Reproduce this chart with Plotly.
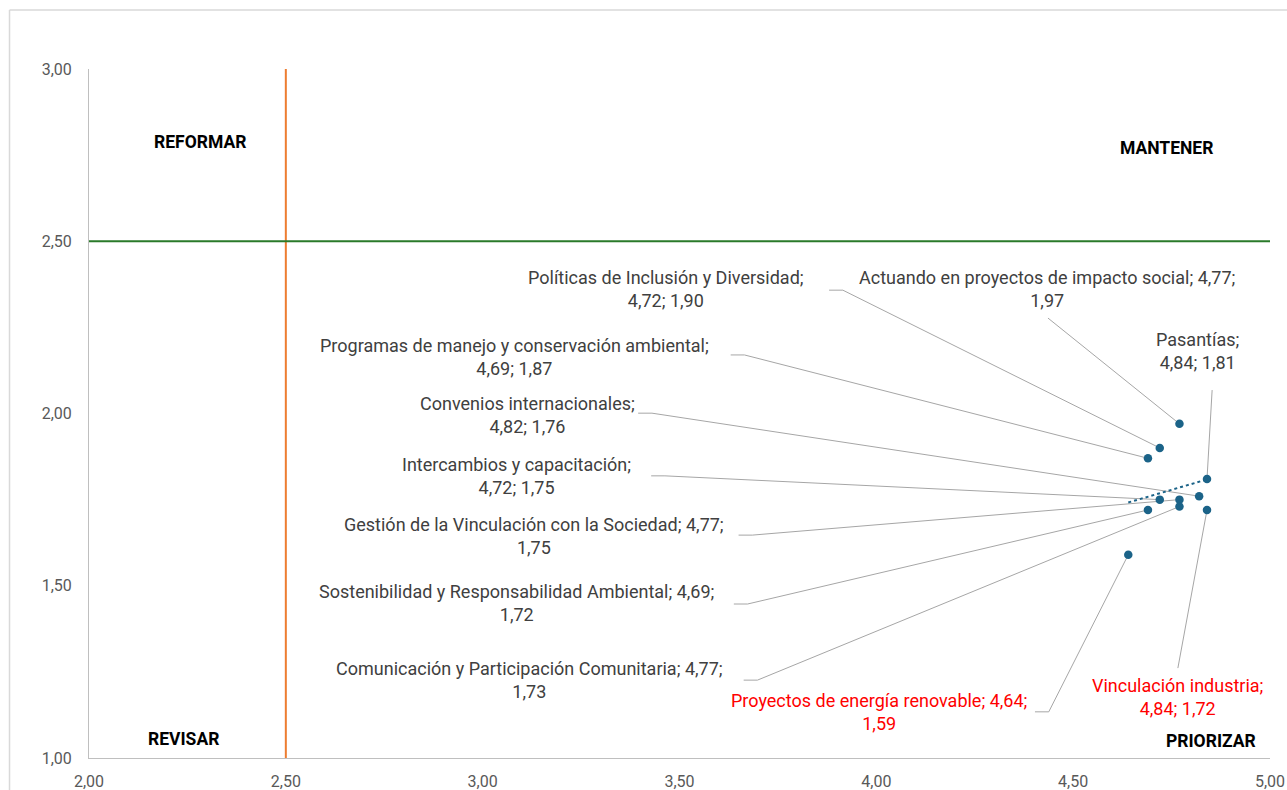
import numpy as np
import plotly.graph_objects as go

# Indicator names, satisfaction (x) and importance (y)
names = [
    "Actuando en proyectos de impacto social",
    "Pasantías",
    "Políticas de Inclusión y Diversidad",
    "Programas de manejo y conservación ambiental",
    "Convenios internacionales",
    "Intercambios y capacitación",
    "Gestión de la Vinculación con la Sociedad",
    "Sostenibilidad y Responsabilidad Ambiental",
    "Comunicación y Participación Comunitaria",
    "Proyectos de energía renovable",
    "Vinculación industria",
]
x_vals = [4.77, 4.84, 4.72, 4.69, 4.82, 4.72, 4.77, 4.69, 4.77, 4.64, 4.84]
y_vals = [1.97, 1.81, 1.90, 1.87, 1.76, 1.75, 1.75, 1.72, 1.73, 1.59, 1.72]
highlight = [False, False, False, False, False, False, False, False, False, True, True]

x_ticks = [2.0, 2.5, 3.0, 3.5, 4.0, 4.5, 5.0]
y_ticks = [1.0, 1.5, 2.0, 2.5, 3.0]
x_cut = 2.5
y_cut = 2.5

quadrants = ["REFORMAR", "MANTENER", "REVISAR", "PRIORIZAR"]

# Label placement (data units): label centre, line break style, leader start
label_layout = [
    # (cx, cy, break_after_first_value, ax, ay, hook)
    (4.433, 2.361, True, 4.436, 2.277, 0.0),
    (4.815, 2.181, False, 4.853, 2.068, 0.0),
    (3.466, 2.361, False, 3.880, 2.358, 0.035),
    (3.080, 2.164, False, 3.630, 2.170, 0.035),
    (3.113, 1.996, False, 3.395, 2.001, 0.035),
    (3.087, 1.819, False, 3.428, 1.819, 0.035),
    (3.130, 1.644, True, 3.650, 1.647, 0.035),
    (3.085, 1.450, True, 3.638, 1.447, 0.035),
    (3.118, 1.226, True, 3.663, 1.226, 0.035),
    (4.007, 1.134, True, 4.403, 1.134, 0.035),
    (4.766, 1.177, False, 4.766, 1.261, 0.0),
]

quad_pos = [(2.283, 2.788), (4.736, 2.771), (2.241, 1.055), (4.850, 1.049)]


def fmt(v):
    return f"{v:.2f}".replace(".", ",")


POINT = "#1B6388"
LABEL = "#404040"
RED = "#FF0000"
LEADER = "#A6A6A6"
FONT = "Roboto"

fig = go.Figure()

# Leader lines from each label to its point
for i, (cx, cy, brk, ax, ay, hook) in enumerate(label_layout):
    fig.add_trace(go.Scatter(
        x=[ax, ax + hook, x_vals[i]], y=[ay, ay, y_vals[i]],
        mode="lines", line=dict(color=LEADER, width=1),
        hoverinfo="skip", showlegend=False,
    ))

# Quadrant dividers
fig.add_trace(go.Scatter(x=[x_cut, x_cut], y=[y_ticks[0], y_ticks[-1]], mode="lines",
                         line=dict(color="#ED7D31", width=2), showlegend=False, hoverinfo="skip"))
fig.add_trace(go.Scatter(x=[x_ticks[0], x_ticks[-1]], y=[y_cut, y_cut], mode="lines",
                         line=dict(color="#2A7A2A", width=2), showlegend=False, hoverinfo="skip"))

# Linear trend line
slope, intercept = np.polyfit(x_vals, y_vals, 1)
tx = np.array([min(x_vals), max(x_vals)])
fig.add_trace(go.Scatter(x=tx, y=slope * tx + intercept, mode="lines",
                         line=dict(color=POINT, width=2, dash="dot"),
                         showlegend=False, hoverinfo="skip"))

# Points
fig.add_trace(go.Scatter(x=x_vals, y=y_vals, mode="markers",
                         marker=dict(color=POINT, size=8.5),
                         text=names, showlegend=False))

# Data labels
for i, (cx, cy, brk, ax, ay, hook) in enumerate(label_layout):
    if brk:
        txt = f"{names[i]}; {fmt(x_vals[i])};<br>{fmt(y_vals[i])}"
    else:
        txt = f"{names[i]};<br>{fmt(x_vals[i])}; {fmt(y_vals[i])}"
    fig.add_annotation(x=cx, y=cy, xref="x", yref="y", text=txt, showarrow=False,
                       align="center", xanchor="center", yanchor="middle",
                       font=dict(family=FONT, size=18,
                                 color=RED if highlight[i] else LABEL))

# Quadrant titles
for q, (qx, qy) in zip(quadrants, quad_pos):
    fig.add_annotation(x=qx, y=qy, xref="x", yref="y", text=f"<b>{q}</b>",
                       showarrow=False, xanchor="center", yanchor="middle",
                       font=dict(family=FONT, size=17.5, color="#000000"))

# Chart-area border (top and left edges)
fig.add_shape(type="line", xref="paper", yref="paper", x0=-0.0673, x1=1.02,
              y0=1.0856, y1=1.0856, line=dict(color="#D9D9D9", width=1.5))
fig.add_shape(type="line", xref="paper", yref="paper", x0=-0.0673, x1=-0.0673,
              y0=-0.1, y1=1.0856, line=dict(color="#D9D9D9", width=1.5))

fig.update_layout(
    width=1287, height=790,
    margin=dict(l=89, r=17, t=69, b=32, autoexpand=False),
    paper_bgcolor="white", plot_bgcolor="white",
    separators=",.",
    font=dict(family=FONT, color="#595959", size=16),
    xaxis=dict(range=[x_ticks[0], x_ticks[-1]], tickvals=x_ticks, tickformat=".2f",
               showgrid=False, zeroline=False, showline=True, linecolor="#BFBFBF",
               linewidth=1, ticks="", ticklabelstandoff=9, automargin=False,
               tickfont=dict(size=16, color="#595959")),
    yaxis=dict(range=[y_ticks[0], y_ticks[-1]], tickvals=y_ticks, tickformat=".2f",
               showgrid=False, zeroline=False, showline=True, linecolor="#BFBFBF",
               linewidth=1, ticks="", ticklabelstandoff=13, automargin=False,
               tickfont=dict(size=16, color="#595959")),
)

fig.write_html("out.html")
